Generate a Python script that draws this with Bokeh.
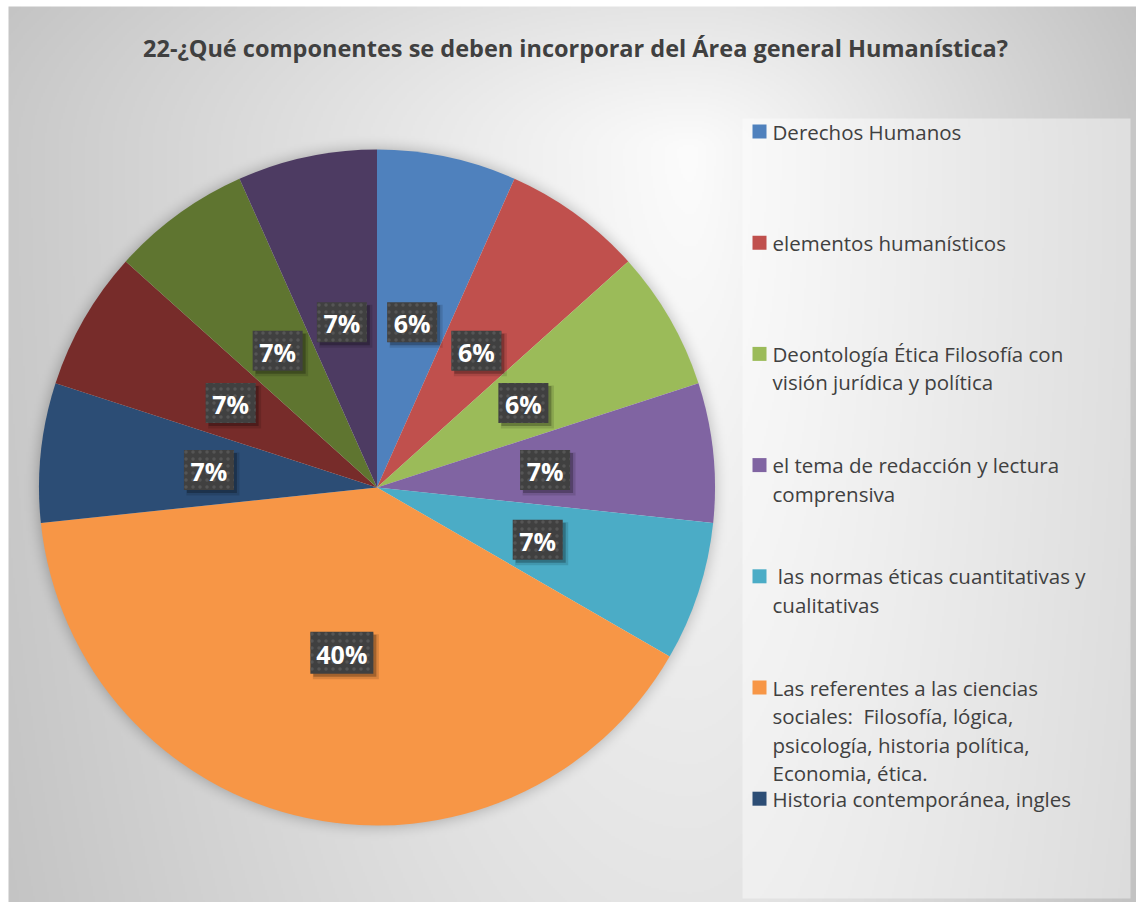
import numpy as np
from bokeh.plotting import figure
from bokeh.models import Range1d
from bokeh.core.properties import value
from bokeh.embed import file_html
from bokeh.resources import INLINE

# ---------------- data ----------------
title_text = "22-¿Qué componentes se deben incorporar del Área general Humanística?"

legend_entries = [
    ["Derechos Humanos"],
    ["elementos humanísticos"],
    ["Deontología Ética Filosofía con", "visión jurídica y política"],
    ["el tema de redacción y lectura", "comprensiva"],
    ["\u00a0las normas éticas cuantitativas y", "cualitativas"],
    ["Las referentes a las ciencias", "sociales:\u00a0 Filosofía, lógica,",
     "psicología, historia política,", "Economia, ética."],
    ["Historia contemporánea, ingles"],
]

shares = [6.67, 6.67, 6.67, 6.67, 6.67, 40.0, 6.67, 6.67, 6.67, 6.67]
pct_labels = ["6%", "6%", "6%", "7%", "7%", "40%", "7%", "7%", "7%", "7%"]
slice_colors = ["#4F81BD", "#C0504D", "#9BBB59", "#8064A2", "#4BACC6",
                "#F79646", "#2C4D75", "#772C2A", "#5F7530", "#4D3B62"]

# ---------------- layout ----------------
W, H = 1136, 902
CHART_X0, CHART_Y0 = 8, 7   # where the grey chart area begins on the page


def dx(px):
    return px


def dy(py):
    return H - py


p = figure(width=W, height=H, x_range=Range1d(0, W), y_range=Range1d(0, H),
           output_backend="svg", toolbar_location=None, min_border=0,
           x_axis_location=None, y_axis_location=None)
p.grid.visible = False
p.outline_line_color = None
p.background_fill_color = "white"
p.border_fill_color = "white"

# pie geometry (page coordinates)
PCX, PCY, R = 376.5, 487.0, 338.0
cx, cy = dx(PCX), dy(PCY)

# ---------------- background gradient ----------------
S = 2
nx, ny = W // S, H // S
xs = (np.arange(nx) + 0.5) * S
ys = (np.arange(ny) + 0.5) * S
X, Y = np.meshgrid(xs, ys)
PX = X
PY = H - Y
gx, gy = 690.0, 150.0
ddx = PX - gx
ddy = PY - gy
sx = np.where(ddx > 0, 440.0, 700.0)
sy = np.where(ddy < 0, 318.0, 1680.0)
d = np.sqrt((ddx / sx) ** 2 + (ddy / sy) ** 2)
g = 252.0 - 52.0 * d
# soft glow/shadow around pie
rr = np.sqrt((PX - PCX) ** 2 + (PY - PCY) ** 2)
t = np.clip(1.0 - (rr - R) / 16.0, 0, 1)
g = g - np.where(rr > R - 2, 30.0 * t ** 2, 0.0)
# legend panel (lighter)
inleg = (PX >= 743) & (PX <= 1129) & (PY >= 119) & (PY <= 897)
g = np.where(inleg, g + 0.42 * (255.0 - g), g)
# page margin outside the chart area
g = np.where((PX < CHART_X0) | (PY < CHART_Y0), 255.0, g)
g = np.clip(g, 0, 255).astype(np.uint8)
img = np.empty((ny, nx), dtype=np.uint32)
view = img.view(dtype=np.uint8).reshape((ny, nx, 4))
view[..., 0] = g
view[..., 1] = g
view[..., 2] = g
view[..., 3] = 255
p.image_rgba(image=[img], x=0, y=0, dw=W, dh=H)

# ---------------- pie ----------------
fr = np.array(shares) / np.sum(shares)
cum = np.concatenate([[0.0], np.cumsum(fr)])
start = np.pi / 2 - 2 * np.pi * cum[1:]
end = np.pi / 2 - 2 * np.pi * cum[:-1]
p.wedge(x=cx, y=cy, radius=R, start_angle=list(start), end_angle=list(end),
        direction="anticlock", fill_color=slice_colors, line_color=None)

# ---------------- data labels ----------------
mid = (start + end) / 2
lr = 0.5 * R
lx = cx + lr * np.cos(mid)
ly = cy + lr * np.sin(mid)
bw = [24 + 13 * len(s) for s in pct_labels]
bh = [40 if len(s) < 3 else 42 for s in pct_labels]
p.rect(x=list(lx + 4), y=list(ly - 4), width=[w + 3 for w in bw], height=[h + 3 for h in bh],
       fill_color="black", fill_alpha=0.12, line_color=None)
p.rect(x=list(lx + 3), y=list(ly - 3), width=bw, height=bh,
       fill_color="black", fill_alpha=0.25, line_color=None)
p.rect(x=list(lx), y=list(ly), width=bw, height=bh,
       fill_color="#404040", line_color=None,
       hatch_pattern="dot", hatch_color="#555555", hatch_scale=7, hatch_weight=1.0)
p.text(x=list(lx), y=list(ly - 1), text=pct_labels, text_align="center",
       text_baseline="middle", text_color="white",
       text_font=value("Open Sans"), text_font_style="bold", text_font_size="25px")

# ---------------- title ----------------
p.text(x=[dx(575)], y=[dy(47)], text=[title_text], text_align="center",
       text_baseline="middle", text_color="#404040",
       text_font=value("Open Sans"), text_font_style="bold", text_font_size="23.5px")

# ---------------- legend ----------------
LEG_Y0, LEG_STEP, LINE_STEP = 131.0, 111.2, 28.5
mk_x, mk_y, mk_c = [], [], []
tx, ty, tt = [], [], []
for i, lines in enumerate(legend_entries):
    y0 = LEG_Y0 + LEG_STEP * i
    mk_x.append(dx(759))
    mk_y.append(dy(y0))
    mk_c.append(slice_colors[i])
    for j, line in enumerate(lines):
        tx.append(dx(772))
        ty.append(dy(y0 + LINE_STEP * j))
        tt.append(line)
p.rect(x=mk_x, y=mk_y, width=14, height=14, fill_color=mk_c, line_color=None)
p.text(x=tx, y=ty, text=tt, text_align="left", text_baseline="middle",
       text_color="#404040", text_font=value("Open Sans"), text_font_size="20.5px")

open("out.html", "w").write(file_html(p, INLINE))
